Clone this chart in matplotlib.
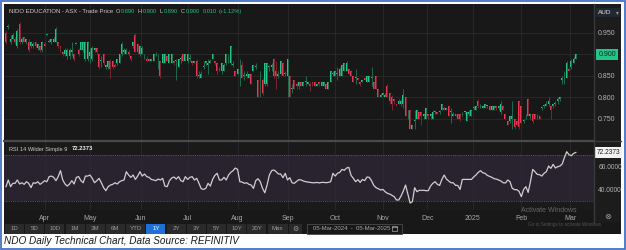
import numpy as np
import matplotlib.pyplot as plt
from matplotlib.patches import Rectangle

plt.rcParams['font.family'] = ['Liberation Sans', 'DejaVu Sans']

# -----------------------------
# Daily OHLC, NDO (05-Mar-2024 .. 05-Mar-2025)
# -----------------------------
opens = [
    0.950, 0.965, 0.930, 0.935, 0.935, 0.920, 0.970, 0.930, 0.940, 0.930,
    0.930, 0.920, 0.920, 0.930, 0.915, 0.920, 0.910, 0.925, 0.945, 0.930,
    0.930, 0.930, 0.930, 0.930, 0.920, 0.905, 0.900, 0.895, 0.895, 0.905,
    0.900, 0.925, 0.910, 0.910, 0.910, 0.890, 0.890, 0.895, 0.890, 0.910,
    0.915, 0.900, 0.885, 0.900, 0.870, 0.870, 0.885, 0.885, 0.875, 0.880,
    0.880, 0.900, 0.905, 0.900, 0.905, 0.895, 0.920, 0.945, 0.925, 0.900,
    0.900, 0.895, 0.890, 0.890, 0.885, 0.885, 0.900, 0.895, 0.885, 0.880,
    0.880, 0.895, 0.880, 0.880, 0.885, 0.885, 0.870, 0.890, 0.900, 0.885,
    0.885, 0.890, 0.885, 0.880,
    0.885, 0.850, 0.845, 0.870, 0.880, 0.875, 0.880, 0.890, 0.885, 0.880,
    0.865, 0.860, 0.860, 0.880, 0.890, 0.880, 0.875, 0.860, 0.855, 0.860,
    0.875, 0.850, 0.850, 0.845, 0.855, 0.860, 0.870, 0.840, 0.830, 0.840,
    0.830, 0.830, 0.870, 0.870, 0.890, 0.860, 0.850, 0.855, 0.880, 0.855,
    0.850, 0.850, 0.820, 0.840, 0.830,
    0.825, 0.835, 0.825, 0.835, 0.830, 0.830, 0.835, 0.835, 0.825, 0.835,
    0.825, 0.825, 0.830, 0.820, 0.835, 0.855, 0.850, 0.855, 0.850, 0.850,
    0.860, 0.860, 0.865, 0.860, 0.850, 0.845, 0.845, 0.835, 0.835, 0.845,
    0.835, 0.835, 0.845, 0.835, 0.850, 0.820, 0.800, 0.805, 0.800, 0.825,
    0.810, 0.800, 0.795, 0.785,
    0.785, 0.785, 0.785, 0.800, 0.760, 0.770, 0.725, 0.745, 0.750, 0.765,
    0.765, 0.755, 0.750, 0.760, 0.755, 0.750, 0.765, 0.765, 0.765, 0.770,
    0.775, 0.770, 0.780, 0.765, 0.755, 0.760, 0.760, 0.760, 0.760, 0.765,
    0.745, 0.760, 0.755, 0.775, 0.770, 0.790, 0.780, 0.775, 0.775, 0.780,
    0.780, 0.770, 0.770, 0.780,
    0.775, 0.765, 0.780, 0.760, 0.745, 0.745, 0.750, 0.750, 0.745, 0.790,
    0.780, 0.745, 0.755, 0.795, 0.755, 0.760, 0.760, 0.755, 0.755, 0.775,
    0.780, 0.780, 0.785, 0.780, 0.780, 0.785, 0.790, 0.795, 0.840, 0.840,
    0.845, 0.865, 0.870, 0.880, 0.890,
]
highs = [
    0.955, 0.970, 0.945, 0.950, 0.940, 0.960, 0.975, 0.940, 0.940, 0.935,
    0.935, 0.930, 0.930, 0.930, 0.925, 0.920, 0.930, 0.930, 0.950, 0.935,
    0.935, 0.940, 0.965, 0.930, 0.920, 0.905, 0.915, 0.915, 0.915, 0.930,
    0.900, 0.930, 0.915, 0.930, 0.930, 0.930, 0.930, 0.915, 0.920, 0.915,
    0.915, 0.900, 0.895, 0.900, 0.875, 0.885, 0.890, 0.885, 0.880, 0.890,
    0.900, 0.930, 0.915, 0.915, 0.910, 0.895, 0.930, 0.950, 0.925, 0.920,
    0.920, 0.900, 0.895, 0.890, 0.890, 0.900, 0.905, 0.900, 0.885, 0.900,
    0.900, 0.895, 0.900, 0.900, 0.885, 0.890, 0.890, 0.895, 0.900, 0.900,
    0.900, 0.900, 0.885, 0.885,
    0.890, 0.860, 0.860, 0.885, 0.885, 0.890, 0.890, 0.900, 0.885, 0.880,
    0.870, 0.880, 0.880, 0.900, 0.900, 0.920, 0.885, 0.860, 0.865, 0.890,
    0.885, 0.860, 0.860, 0.855, 0.855, 0.875, 0.880, 0.840, 0.860, 0.845,
    0.880, 0.880, 0.875, 0.880, 0.890, 0.885, 0.860, 0.885, 0.880, 0.860,
    0.890, 0.850, 0.830, 0.840, 0.835,
    0.835, 0.835, 0.835, 0.850, 0.835, 0.835, 0.835, 0.835, 0.830, 0.835,
    0.835, 0.835, 0.830, 0.835, 0.860, 0.860, 0.860, 0.870, 0.870, 0.875,
    0.880, 0.885, 0.865, 0.860, 0.850, 0.865, 0.845, 0.835, 0.840, 0.845,
    0.850, 0.850, 0.870, 0.835, 0.850, 0.820, 0.810, 0.810, 0.810, 0.830,
    0.810, 0.805, 0.795, 0.785,
    0.795, 0.795, 0.820, 0.800, 0.770, 0.770, 0.735, 0.770, 0.770, 0.765,
    0.765, 0.760, 0.775, 0.760, 0.760, 0.770, 0.770, 0.765, 0.770, 0.785,
    0.780, 0.775, 0.780, 0.775, 0.765, 0.760, 0.760, 0.760, 0.765, 0.765,
    0.765, 0.770, 0.770, 0.780, 0.780, 0.795, 0.785, 0.780, 0.785, 0.780,
    0.780, 0.780, 0.780, 0.780,
    0.780, 0.790, 0.780, 0.760, 0.745, 0.755, 0.790, 0.750, 0.745, 0.790,
    0.780, 0.750, 0.760, 0.795, 0.760, 0.760, 0.760, 0.760, 0.755, 0.780,
    0.785, 0.790, 0.800, 0.780, 0.785, 0.790, 0.800, 0.800, 0.850, 0.860,
    0.885, 0.870, 0.890, 0.895, 0.900,
]
lows = [
    0.925, 0.960, 0.925, 0.935, 0.925, 0.915, 0.925, 0.925, 0.930, 0.925,
    0.905, 0.915, 0.915, 0.915, 0.910, 0.905, 0.905, 0.920, 0.945, 0.930,
    0.925, 0.930, 0.930, 0.915, 0.905, 0.895, 0.895, 0.890, 0.890, 0.895,
    0.885, 0.925, 0.895, 0.910, 0.905, 0.885, 0.885, 0.880, 0.885, 0.905,
    0.900, 0.865, 0.870, 0.875, 0.865, 0.865, 0.845, 0.865, 0.870, 0.875,
    0.880, 0.895, 0.900, 0.900, 0.895, 0.885, 0.915, 0.905, 0.900, 0.895,
    0.900, 0.890, 0.885, 0.885, 0.885, 0.885, 0.895, 0.865, 0.845, 0.880,
    0.880, 0.885, 0.880, 0.880, 0.875, 0.840, 0.870, 0.880, 0.885, 0.885,
    0.880, 0.885, 0.875, 0.880,
    0.845, 0.845, 0.845, 0.865, 0.875, 0.855, 0.880, 0.890, 0.875, 0.855,
    0.860, 0.855, 0.860, 0.875, 0.880, 0.875, 0.870, 0.850, 0.855, 0.825,
    0.845, 0.840, 0.845, 0.845, 0.830, 0.860, 0.865, 0.800, 0.800, 0.805,
    0.825, 0.825, 0.860, 0.860, 0.845, 0.820, 0.845, 0.855, 0.850, 0.850,
    0.800, 0.800, 0.810, 0.820, 0.820,
    0.820, 0.825, 0.825, 0.825, 0.830, 0.815, 0.825, 0.825, 0.825, 0.825,
    0.825, 0.825, 0.820, 0.820, 0.835, 0.850, 0.850, 0.840, 0.850, 0.850,
    0.860, 0.860, 0.855, 0.850, 0.835, 0.830, 0.840, 0.825, 0.835, 0.840,
    0.835, 0.835, 0.825, 0.820, 0.820, 0.800, 0.800, 0.805, 0.800, 0.800,
    0.785, 0.770, 0.785, 0.780,
    0.785, 0.780, 0.775, 0.755, 0.750, 0.725, 0.725, 0.725, 0.750, 0.750,
    0.735, 0.750, 0.750, 0.750, 0.750, 0.750, 0.760, 0.760, 0.760, 0.770,
    0.770, 0.770, 0.755, 0.740, 0.755, 0.755, 0.750, 0.745, 0.755, 0.760,
    0.745, 0.755, 0.755, 0.770, 0.770, 0.775, 0.775, 0.775, 0.775, 0.775,
    0.770, 0.770, 0.770, 0.770,
    0.770, 0.760, 0.770, 0.750, 0.735, 0.740, 0.725, 0.725, 0.735, 0.725,
    0.740, 0.740, 0.750, 0.755, 0.750, 0.740, 0.750, 0.750, 0.750, 0.770,
    0.775, 0.780, 0.780, 0.750, 0.775, 0.780, 0.785, 0.790, 0.830, 0.830,
    0.845, 0.860, 0.865, 0.880, 0.890,
]
closes = [
    0.930, 0.965, 0.935, 0.945, 0.930, 0.955, 0.930, 0.935, 0.930, 0.935,
    0.910, 0.930, 0.925, 0.920, 0.925, 0.910, 0.930, 0.920, 0.945, 0.930,
    0.935, 0.935, 0.960, 0.920, 0.910, 0.900, 0.910, 0.910, 0.910, 0.910,
    0.890, 0.925, 0.900, 0.930, 0.930, 0.930, 0.930, 0.905, 0.915, 0.915,
    0.905, 0.870, 0.885, 0.880, 0.875, 0.885, 0.865, 0.870, 0.870, 0.890,
    0.900, 0.925, 0.910, 0.910, 0.900, 0.890, 0.930, 0.905, 0.905, 0.920,
    0.915, 0.895, 0.885, 0.885, 0.890, 0.900, 0.900, 0.895, 0.850, 0.900,
    0.900, 0.885, 0.900, 0.900, 0.880, 0.885, 0.890, 0.890, 0.885, 0.900,
    0.900, 0.890, 0.880, 0.885,
    0.850, 0.850, 0.855, 0.870, 0.885, 0.880, 0.885, 0.900, 0.880, 0.860,
    0.865, 0.880, 0.875, 0.900, 0.890, 0.920, 0.875, 0.850, 0.865, 0.860,
    0.845, 0.850, 0.855, 0.855, 0.830, 0.875, 0.870, 0.800, 0.830, 0.810,
    0.880, 0.880, 0.870, 0.875, 0.850, 0.850, 0.855, 0.885, 0.850, 0.855,
    0.890, 0.800, 0.820, 0.820, 0.825,
    0.835, 0.825, 0.835, 0.835, 0.835, 0.825, 0.825, 0.825, 0.830, 0.830,
    0.835, 0.835, 0.820, 0.835, 0.860, 0.855, 0.860, 0.855, 0.865, 0.875,
    0.880, 0.880, 0.855, 0.850, 0.835, 0.845, 0.840, 0.830, 0.840, 0.840,
    0.850, 0.850, 0.845, 0.820, 0.820, 0.800, 0.805, 0.810, 0.805, 0.800,
    0.790, 0.785, 0.790, 0.780,
    0.790, 0.790, 0.805, 0.755, 0.760, 0.725, 0.735, 0.745, 0.770, 0.750,
    0.755, 0.760, 0.775, 0.755, 0.760, 0.765, 0.765, 0.760, 0.765, 0.785,
    0.770, 0.775, 0.755, 0.765, 0.760, 0.755, 0.750, 0.750, 0.760, 0.765,
    0.765, 0.765, 0.770, 0.775, 0.780, 0.780, 0.780, 0.780, 0.785, 0.780,
    0.770, 0.780, 0.780, 0.775,
    0.780, 0.785, 0.770, 0.750, 0.735, 0.755, 0.755, 0.730, 0.735, 0.730,
    0.740, 0.745, 0.755, 0.755, 0.760, 0.745, 0.750, 0.755, 0.750, 0.775,
    0.780, 0.785, 0.790, 0.770, 0.785, 0.785, 0.795, 0.800, 0.845, 0.850,
    0.880, 0.860, 0.885, 0.890, 0.900,
]

# RSI 14 Wilder, one value per trading day
rsi = [
    42.5, 48.3, 42.5, 45.4, 45.4, 48.3, 44.8, 45.9, 44.5, 46.8,
    45.4, 41.6, 45.9, 45.4, 46.8, 44.5, 45.9, 47.7, 46.8, 51.2,
    51.7, 50.6, 47.7, 51.2, 56.4, 48.3, 44.8, 43.0, 44.8, 47.7,
    44.8, 50.6, 51.2, 47.7, 45.9, 51.7, 51.7, 52.6, 49.7, 45.9,
    47.7, 49.7, 45.9, 41.6, 39.0, 42.5, 43.9, 44.5, 45.9, 44.8,
    46.8, 47.7, 48.3, 55.5, 52.6, 50.6, 52.6, 48.8, 51.7, 55.5,
    51.7, 53.5, 51.2, 50.6, 48.8, 48.3, 47.7, 49.1, 48.3, 49.7,
    43.0, 42.5, 47.7, 50.0, 50.9, 49.1, 51.2, 47.7, 46.8, 51.2,
    48.8, 50.6, 51.2, 48.3, 49.7, 45.4, 40.7, 40.1, 41.0, 45.4,
    43.0, 48.8, 52.3, 54.1, 48.3, 48.3, 50.6, 48.3, 52.6, 54.9,
    56.4, 58.7, 57.5, 46.8, 46.5, 45.4, 45.9, 44.5, 43.9, 41.0,
    47.7, 49.4, 46.8, 41.0, 37.2, 43.9, 52.6, 56.4, 57.0, 55.5,
    53.5, 53.5, 50.3, 54.1, 48.3, 50.3, 45.9, 45.4, 47.1, 48.6,
    48.3, 47.4, 46.8, 46.5, 46.2, 45.9, 45.9, 46.2, 45.7, 46.2,
    46.2, 45.9, 46.2, 46.8, 54.1, 51.7, 54.1, 54.9, 57.5, 56.7,
    58.7, 59.3, 52.3, 49.7, 46.8, 48.6, 46.2, 48.8, 47.7, 50.9,
    50.6, 47.7, 43.6, 41.6, 40.7, 39.6, 40.1, 38.1, 36.7, 36.1,
    34.9, 33.8, 30.9, 30.9, 34.3, 38.7, 43.9, 36.1, 28.3, 29.4,
    41.6, 38.1, 39.3, 39.3, 39.3, 39.0, 39.0, 43.0, 45.4, 46.8,
    44.5, 43.6, 48.8, 52.6, 49.1, 47.4, 45.9, 45.9, 43.6, 43.6,
    40.1, 48.8, 48.8, 48.8, 48.8, 48.8, 50.9, 52.6, 54.9, 56.4,
    54.6, 54.1, 52.3, 51.4, 50.6, 49.4, 49.1, 48.3, 47.4, 45.9,
    45.7, 48.3, 46.8, 41.0, 39.9, 39.9, 38.4, 33.8, 40.1, 42.5,
    37.5, 46.8, 57.5, 55.5, 53.2, 52.9, 51.7, 54.1, 55.5, 60.4,
    58.4, 61.9, 58.7, 59.9, 60.4, 62.2, 68.0, 72.9, 70.3, 69.4,
    71.4, 72.2373,
]

# month label positions (trading-day index) and labels
month_pos = [17, 37, 59.5, 80, 102, 124, 145, 166, 185.5, 205.5, 227, 248.5]
month_labels = ["Apr", "May", "Jun", "Jul", "Aug", "Sep", "Oct", "Nov",
                "Dec", "2025", "Feb", "Mar"]
price_ticks = [0.75, 0.80, 0.85, 0.90, 0.95]
rsi_ticks = [40, 60]
range_buttons = ["1D", "5D", "10D", "1M", "3M", "6M", "YTD", "1Y",
                 "2Y", "3Y", "5Y", "10Y", "20Y", "Max"]

# -----------------------------
# Colours
# -----------------------------
GREEN = "#22c487"
RED = "#e8384f"
GREEN_DIM = "#1d6b4c"
RED_DIM = "#7a2634"
BG = "#181818"
GRID = "#2a2a2a"
TXT = "#b4b4b4"

W, H = 626, 250
fig = plt.figure(figsize=(W / 100, H / 100), dpi=100)
fig.patch.set_facecolor("white")


def px_axes(x0, y0, x1, y1):
    return fig.add_axes([x0 / W, 1 - y1 / H, (x1 - x0) / W, (y1 - y0) / H])


def px_layer():
    layer = px_axes(0, 0, W, H)
    layer.set_xlim(0, W)
    layer.set_ylim(H, 0)
    layer.axis("off")
    return layer


# background layer in pixel units
bg = px_layer()
bg.add_patch(Rectangle((1, 1), 623.5, 247.5, fill=False, ec="#4472c4", lw=1.3))
bg.add_patch(Rectangle((4, 4), 617, 230, fc=BG, ec="none"))
bg.add_patch(Rectangle((594, 4), 27, 218, fc="#1c1c1c", ec="none"))

x = np.arange(len(closes))
o = np.array(opens)
h = np.array(highs)
l = np.array(lows)
c = np.array(closes)
up = c >= o

# -----------------------------
# Price panel
# -----------------------------
ax = px_axes(4, 4, 594, 140)
ax.set_facecolor(BG)
ax.set_xlim(-0.88, 259.0)
ax.set_ylim(0.700, 1.0176)
ax.set_yticks(price_ticks)
ax.set_xticks(month_pos)
ax.grid(True, color=GRID, lw=0.6)
ax.set_axisbelow(True)
ax.yaxis.tick_right()
ax.tick_params(axis="y", length=0, pad=3, labelsize=5, labelcolor=TXT)
ax.tick_params(axis="x", length=0, labelbottom=False)
ax.yaxis.set_major_formatter(plt.FuncFormatter(lambda v, p: f"{v:.3f}"))
for s in ax.spines.values():
    s.set_visible(False)

ax.vlines(x, l, h, colors=np.where(up, GREEN_DIM, RED_DIM), lw=0.7)
ax.bar(x, np.maximum(np.abs(c - o), 0.0018), bottom=np.minimum(o, c),
       width=0.85, color=np.where(up, GREEN, RED), lw=0)

ax.annotate(f"{closes[-1]:.3f}", xy=(1, closes[-1]),
            xycoords=("axes fraction", "data"), xytext=(3.2, 0),
            textcoords="offset points", ha="left", va="center",
            fontsize=5, color="#0b2a1c", annotation_clip=False,
            bbox=dict(boxstyle="square,pad=0.3", fc=GREEN, ec="none"))

# -----------------------------
# RSI panel
# -----------------------------
ax2 = px_axes(4, 141, 594, 210)
ax2.set_facecolor("#1a1a1a")
ax2.set_xlim(-0.88, 259.0)
ax2.set_ylim(22.2, 82.2)
ax2.axhspan(30, 70, color="#28232f", lw=0, zorder=0)
ax2.axhline(70, color="#6a6a6a", lw=0.6, ls=(0, (1, 1.6)))
ax2.axhline(30, color="#6a6a6a", lw=0.6, ls=(0, (1, 1.6)))
ax2.set_xticks(month_pos)
ax2.set_xticklabels(month_labels)
ax2.grid(True, axis="x", color="#2c2834", lw=0.6)
ax2.set_axisbelow(True)
ax2.set_yticks(rsi_ticks)
ax2.yaxis.tick_right()
ax2.yaxis.set_major_formatter(plt.FuncFormatter(lambda v, p: f"{v:.4f}"))
ax2.tick_params(axis="y", length=0, pad=3, labelsize=4.8, labelcolor=TXT)
ax2.tick_params(axis="x", length=0, pad=3.5, labelsize=5, labelcolor="#a8a8a8")
for s in ax2.spines.values():
    s.set_visible(False)

ax2.plot(x, rsi, color="#cfcfcf", lw=0.9)

ax2.annotate(f"{rsi[-1]:.4f}", xy=(1, rsi[-1]),
             xycoords=("axes fraction", "data"), xytext=(2.2, 0),
             textcoords="offset points", ha="left", va="center",
             fontsize=4.8, color="#202020", annotation_clip=False,
             bbox=dict(boxstyle="square,pad=0.25", fc="#f2f2f2", ec="none"))

# -----------------------------
# Overlay: separators, headers, toolbar, caption
# -----------------------------
top = px_layer()
top.plot([594, 594], [4, 222], color="#3a3a3a", lw=1.0)
top.plot([4, 594], [140.5, 140.5], color="#4a4a4a", lw=1.6)
top.plot([594, 621], [140.5, 140.5], color="#3a3a3a", lw=1.0)

top.text(9, 11.5, "NIDO EDUCATION - ASX - Trade Price", fontsize=4.3,
         color="#cccccc", va="center")
head = [(116, "O", "#cccccc"), (121, "0.890", GREEN),
        (138, "H", "#cccccc"), (143, "0.900", GREEN),
        (159.5, "L", "#cccccc"), (163.5, "0.890", GREEN),
        (181, "C", "#cccccc"), (185.5, "0.900", GREEN),
        (203, "0.010", GREEN), (219, "(+1.12%)", GREEN)]
for hx, htxt, hcol in head:
    top.text(hx, 11.5, htxt, fontsize=4.1, color=hcol, va="center")

top.add_patch(Rectangle((596, 7.5), 24, 9.5, fc="#222831", ec="none"))
top.text(598, 12.3, "AUD", fontsize=4.6, color="#e0e0e0", va="center")
top.text(615.5, 12.3, "\u25be", fontsize=4, color="#9a9a9a", va="center",
         family="DejaVu Sans")

top.text(9, 149, "RSI 14 Wilder Simple 9", fontsize=4.1, color="#cccccc",
         va="center")
top.text(72, 149, f"{rsi[-1]:.4f}", fontsize=4.2, color="#f0f0f0",
         va="center", fontweight="bold")

bx = 5
for b in range_buttons:
    bw = 20.2 if b != "Max" else 21.5
    fc = "#1f6fd9" if b == "1Y" else "#2a2a2a"
    tc = "#ffffff" if b == "1Y" else "#9a9a9a"
    top.add_patch(Rectangle((bx, 223.5), bw - 1.3, 10, fc=fc, ec="none"))
    top.text(bx + (bw - 1.3) / 2, 228.7, b, fontsize=4.4, color=tc,
             ha="center", va="center")
    bx += bw
top.add_patch(Rectangle((bx, 223.5), 13, 10, fc="#2a2a2a", ec="none"))
top.text(bx + 6.5, 228.7, "\u2699", fontsize=5, color="#9a9a9a", ha="center",
         va="center", family="DejaVu Sans")

top.add_patch(Rectangle((307, 223.5), 95, 10, fc=BG, ec="#4a4a4a", lw=0.6))
top.text(313, 228.7, "05-Mar-2024  -  05-Mar-2025", fontsize=4.3,
         color="#a8a8a8", va="center")
top.add_patch(Rectangle((391.5, 225.8), 5.5, 5.2, fill=False, ec="#a8a8a8",
                        lw=0.5))
top.plot([391.5, 397], [227.3, 227.3], color="#a8a8a8", lw=0.5)

top.text(608, 216.5, "\u2297", fontsize=6, color="#9a9a9a", ha="center",
         va="center", family="DejaVu Sans")

# windows watermark left on the screenshot
top.text(521, 210.5, "Activate Windows", fontsize=5, color="#7a7a7a",
         va="center", alpha=0.8)
top.text(528, 224.8, "Go to Settings to activate Windows.", fontsize=3.3,
         color="#6a6a6a", va="center", alpha=0.7)

# caption
top.text(4, 241, "NDO Daily Technical Chart, Data Source: REFINITIV",
         fontsize=7.2, style="italic", color="#1a1a1a", va="center",
         family=["Liberation Sans Narrow", "Liberation Sans"])

fig.savefig("out.png", dpi=100)
